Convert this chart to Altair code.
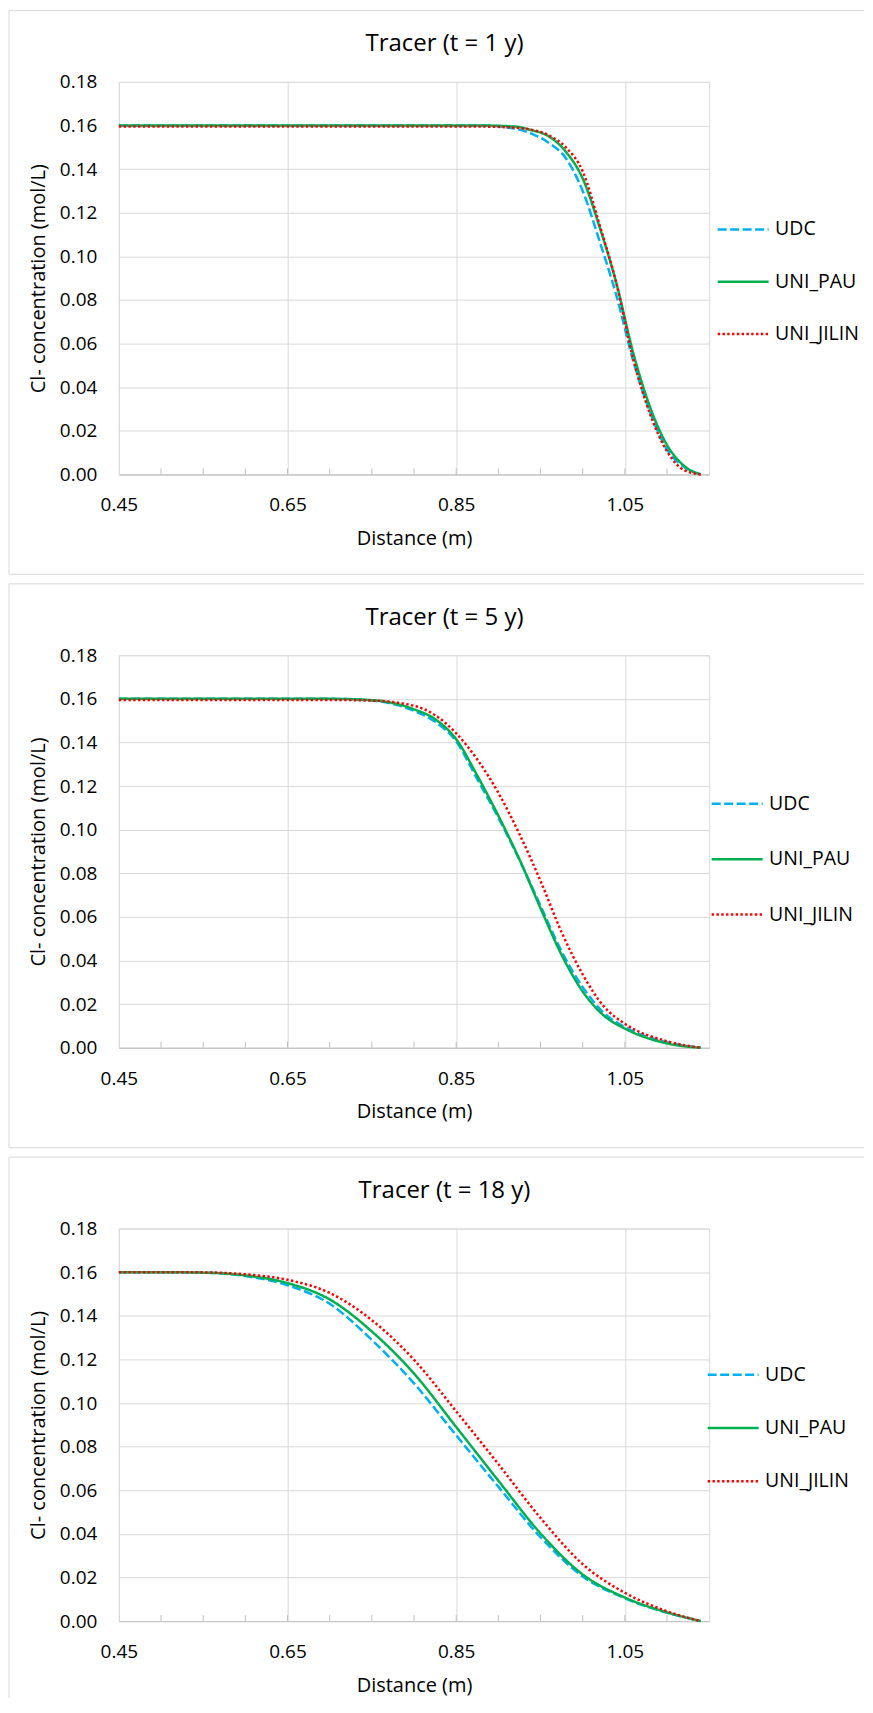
import altair as alt
import pandas as pd

# ---------------- data ----------------
SERIES = ["UDC", "UNI_PAU", "UNI_JILIN"]
COLORS = ["#00B0F0", "#00B050", "#FF0000"]
DASHES = [[9, 3.5], [1, 0], [2.4, 2.4]]

TITLES = ["Tracer (t = 1 y)", "Tracer (t = 5 y)", "Tracer (t = 18 y)"]
X_LABELS = [0.45, 0.65, 0.85, 1.05]
MINOR_TICKS = [0.50, 0.55, 0.60, 0.65, 0.70, 0.75, 0.80, 0.85, 0.90, 0.95, 1.00, 1.05, 1.10]
Y_TICKS = [0.00, 0.02, 0.04, 0.06, 0.08, 0.10, 0.12, 0.14, 0.16, 0.18]

# t = 1 y
P1_X = [0.45, 0.88, 0.92, 0.94, 0.96, 0.98, 1.00, 1.02, 1.04, 1.06, 1.08, 1.10, 1.12, 1.14]
P1_UDC = [0.16, 0.16, 0.1585, 0.1562, 0.152, 0.145, 0.130, 0.107, 0.082, 0.052, 0.0285, 0.0115, 0.0035, 0.0]
P1_PAU = [0.16, 0.16, 0.1595, 0.1578, 0.155, 0.148, 0.1357, 0.1135, 0.0876, 0.0557, 0.0308, 0.0135, 0.004, 0.0]
P1_JILIN = [0.1595, 0.1595, 0.159, 0.158, 0.1555, 0.150, 0.139, 0.1145, 0.0875, 0.0529, 0.0276, 0.0106, 0.002, 0.0]

# t = 5 y
P2_X = [0.45, 0.70, 0.75, 0.80, 0.825, 0.85, 0.875, 0.90, 0.925, 0.95, 0.975, 1.00, 1.025, 1.05, 1.10, 1.14]
P2_UDC = [0.16, 0.16, 0.1592, 0.1545, 0.1495, 0.1405, 0.1232, 0.1055, 0.0862, 0.0651, 0.0442, 0.0278, 0.016, 0.0095, 0.0025, 0.0]
P2_PAU = [0.16, 0.16, 0.1594, 0.1552, 0.1507, 0.1415, 0.1248, 0.1064, 0.0864, 0.064, 0.0426, 0.0258, 0.0148, 0.0088, 0.002, 0.0]
P2_JILIN = [0.1595, 0.1595, 0.1592, 0.1568, 0.1525, 0.1442, 0.1322, 0.1169, 0.098, 0.0765, 0.053, 0.0336, 0.019, 0.011, 0.003, 0.0]

# t = 18 y
P3_X = [0.45, 0.50, 0.55, 0.60, 0.65, 0.70, 0.75, 0.80, 0.85, 0.90, 0.95, 1.00, 1.05, 1.10, 1.14]
P3_UDC = [0.16, 0.16, 0.1598, 0.1582, 0.154, 0.1455, 0.1289, 0.109, 0.0852, 0.0616, 0.0385, 0.0205, 0.0105, 0.0038, 0.0]
P3_PAU = [0.16, 0.16, 0.1598, 0.1585, 0.155, 0.1475, 0.1328, 0.1135, 0.089, 0.0644, 0.0402, 0.0214, 0.0108, 0.004, 0.0]
P3_JILIN = [0.16, 0.16, 0.1599, 0.159, 0.1565, 0.1505, 0.138, 0.1198, 0.0962, 0.072, 0.0473, 0.0261, 0.013, 0.0045, 0.0]

PANELS = [
    (P1_X, P1_UDC, P1_PAU, P1_JILIN),
    (P2_X, P2_UDC, P2_PAU, P2_JILIN),
    (P3_X, P3_UDC, P3_PAU, P3_JILIN),
]

# ---------------- layout / style ----------------
W, H = 591, 393
FONT = "Open Sans"
GRID = "#d9d9d9"
FRAME = "#d9d9d9"
FL, FR, FT, FB = -110, 746, -71.5, 493
LEG_X = [598, 592, 588]
LEG_CENTER = [146.2, 147.3, 144.8]
LEG_SPACING = [53.0, 56.0, 54.0]
ENTRY_H = 37.6


def long_df(xs, udc, pau, jil):
    rows = []
    for s, vals in zip(SERIES, [udc, pau, jil]):
        for d, c in zip(xs, vals):
            rows.append({"series": s, "d": d, "c": c})
    return pd.DataFrame(rows)


def frame_layers(closed):
    base = alt.Chart(pd.DataFrame({"k": [0]}))
    st = dict(color=FRAME, strokeWidth=1)
    bottom = FB if closed else 470
    layers = [
        base.mark_rule(**st).encode(x=alt.value(FL), x2=alt.value(FR), y=alt.value(FT)),
        base.mark_rule(**st).encode(x=alt.value(FL), y=alt.value(FT), y2=alt.value(bottom)),
    ]
    if closed:
        layers.append(
            base.mark_rule(**st).encode(x=alt.value(FL), x2=alt.value(FR), y=alt.value(FB))
        )
    return layers


def make_panel(i):
    xs, udc, pau, jil = PANELS[i]
    df = long_df(xs, udc, pau, jil)

    xenc = alt.X(
        "d:Q",
        scale=alt.Scale(domain=[0.45, 1.15], nice=False, zero=False),
        axis=alt.Axis(
            values=X_LABELS, format=".2f", title="Distance (m)",
            grid=True, gridColor=GRID, ticks=False, domain=True,
            domainColor="#bfbfbf", labelFlush=False, labelOverlap=False,
            labelPadding=21.5, titlePadding=13.5,
        ),
    )
    yenc = alt.Y(
        "c:Q",
        scale=alt.Scale(domain=[0, 0.18], nice=False, zero=True),
        axis=alt.Axis(
            values=Y_TICKS, format=".2f", title="Cl- concentration (mol/L)",
            grid=True, gridColor=GRID, ticks=False, domain=False,
            labelPadding=22, titlePadding=10.5,
        ),
    )
    leg = alt.Legend(
        title=None, orient="none", legendX=LEG_X[i],
        legendY=LEG_CENTER[i] - 25.5,
        symbolType="stroke", symbolSize=2601, symbolStrokeWidth=2.5,
        labelFontSize=19.5, labelFont=FONT, labelColor="black",
        labelOffset=5, rowPadding=LEG_SPACING[i] - ENTRY_H, padding=0,
        labelLimit=300,
    )
    color = alt.Color("series:N", scale=alt.Scale(domain=SERIES, range=COLORS), legend=leg)
    dash = alt.StrokeDash("series:N", scale=alt.Scale(domain=SERIES, range=DASHES), legend=leg)

    base = alt.Chart(df)
    lines = [
        base.transform_filter(alt.datum.series == s)
        .mark_line(strokeWidth=2.5, interpolate="monotone", strokeCap="butt")
        .encode(x=xenc, y=yenc, color=color, strokeDash=dash)
        for s in SERIES
    ]

    minor = (
        alt.Chart(pd.DataFrame({"d": MINOR_TICKS}))
        .mark_rule(color="#bfbfbf", strokeWidth=1)
        .encode(x=alt.X("d:Q"), y=alt.value(H - 6), y2=alt.value(H))
    )

    layers = frame_layers(i < 2) + [minor] + lines
    return alt.layer(*layers).properties(
        width=W, height=H,
        title=alt.TitleParams(
            TITLES[i], fontSize=24, font=FONT, fontWeight="normal", color="black",
            anchor="middle", frame="bounds", baseline="middle", offset=-32.5,
            dx=8, dy=26,
        ),
    )


chart = (
    alt.vconcat(*[make_panel(i) for i in range(3)], spacing=7)
    .resolve_scale(color="independent", strokeDash="independent")
    .resolve_legend(color="independent", strokeDash="independent")
    .properties(padding=0)
    .configure(font=FONT)
    .configure_view(stroke=GRID, strokeWidth=1)
    .configure_axis(
        labelFont=FONT, titleFont=FONT, labelFontSize=19, titleFontSize=20,
        labelColor="black", titleColor="black", titleFontWeight="normal",
    )
)

chart.save("out.html", embed_options={"renderer": "svg", "actions": False})
